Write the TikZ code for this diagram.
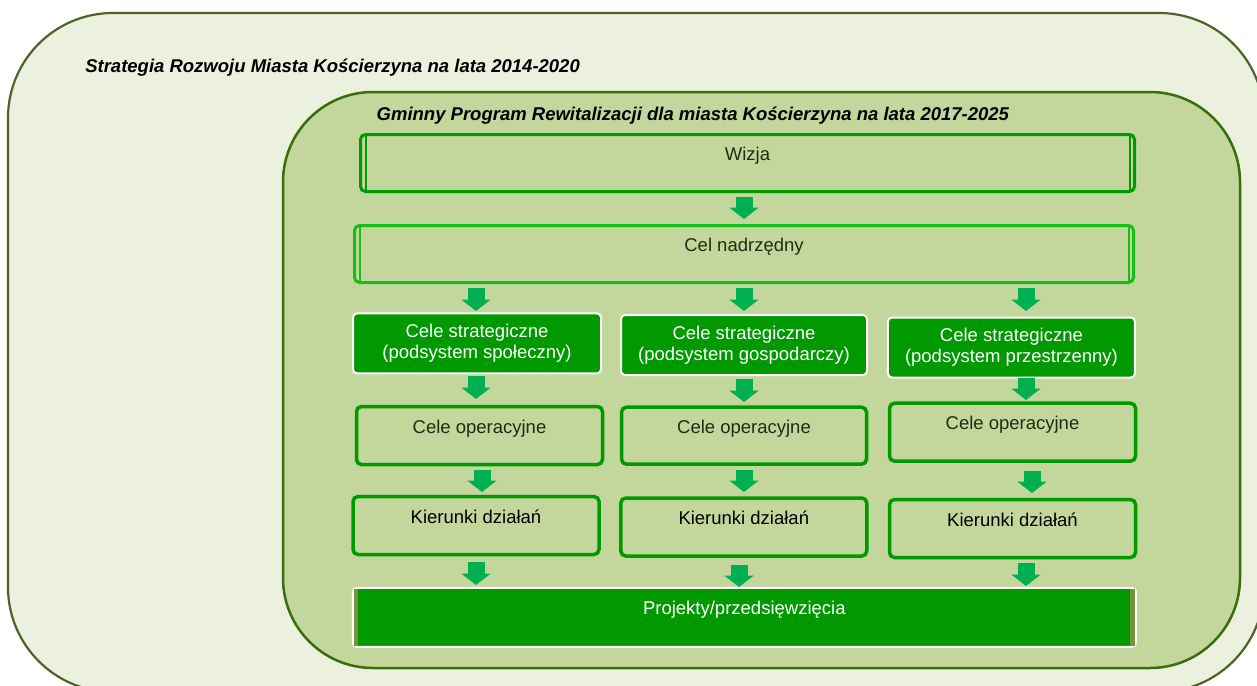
\documentclass[tikz,border=0pt]{standalone}
\usepackage{fontspec}
\setmainfont{Liberation Sans}
\usetikzlibrary{arrows.meta}
\definecolor{outerfill}{HTML}{EBF1DE}
\definecolor{outerline}{HTML}{4F6228}
\definecolor{innerfill}{HTML}{C3D69B}
\definecolor{innerline}{HTML}{3A6E0C}
\definecolor{boxgreen}{HTML}{009900}
\definecolor{lightline}{HTML}{18BE18}
\definecolor{arrowgreen}{HTML}{00B050}
\definecolor{olivestrip}{HTML}{76923C}
\definecolor{darktext}{HTML}{1A2F14}
\begin{document}
\begin{tikzpicture}[x=1pt,y=-1pt,
  every node/.style={font=\fontsize{18.5pt}{21pt}\selectfont, inner sep=0pt, outer sep=0pt},
  titletext/.style={anchor=base west, font=\fontsize{18.5pt}{21pt}\selectfont\bfseries\itshape},
  band/.style={draw=boxgreen, line width=3pt, fill=innerfill, rounded corners=5pt,
    minimum width=774pt, minimum height=57pt, text=darktext, text height=13pt, text depth=18pt},
  strat/.style={fill=boxgreen, draw=white, line width=2pt, rounded corners=4pt,
    minimum width=247pt, minimum height=60pt, text=white, align=center},
  opbox/.style={draw=boxgreen, line width=3.5pt, fill=innerfill, rounded corners=5pt,
    minimum width=246pt, minimum height=58pt, text height=13pt, text depth=18pt, text=darktext},
  kbox/.style={opbox, text=black},
  barrow/.style={draw=arrowgreen, line width=17pt, -{Triangle[width=29pt,length=11.5pt]}},
  edgeline/.style={line width=2pt}
]
\useasboundingbox (0,0) rectangle (1257,685);
\fill[white] (0,0) rectangle (1257,685);
\clip (0,0) rectangle (1257,685);
% containers
\draw[fill=outerfill, draw=outerline, line width=2.2pt, rounded corners=105pt] (8,13) rectangle (1264,692);
\draw[fill=innerfill, draw=innerline, line width=2.5pt, rounded corners=90pt] (283,92) rectangle (1240,668);
\node[titletext] (t1) at (85.3,73) {Strategia Rozwoju Miasta Kościerzyna na lata 2014-2020};
\node[titletext] (t2) at (376.7,120) {Gminny Program Rewitalizacji dla miasta Kościerzyna na lata 2017-2025};
% top bands
\node[band] (wiz) at (747.5,163) {Wizja};
\draw[boxgreen, edgeline] ([xshift=5pt]wiz.north west) -- ([xshift=5pt]wiz.south west);
\draw[boxgreen, edgeline] ([xshift=-5pt]wiz.north east) -- ([xshift=-5pt]wiz.south east);
\node[band, draw=lightline, minimum width=779pt] (cel) at (744,254) {Cel nadrzędny};
\draw[lightline, edgeline] ([xshift=5pt]cel.north west) -- ([xshift=5pt]cel.south west);
\draw[lightline, edgeline] ([xshift=-5pt]cel.north east) -- ([xshift=-5pt]cel.south east);
% strategic
\node[strat, minimum width=248pt] (s1) at (477,343.4) {Cele strategiczne\\(podsystem społeczny)};
\node[strat, minimum width=246pt] (s2) at (744,345) {Cele strategiczne\\(podsystem gospodarczy)};
\node[strat] (s3) at (1011.4,347.5) {Cele strategiczne\\(podsystem przestrzenny)};
% operational
\node[opbox] (o1) at (479.5,435.5) {Cele operacyjne};
\node[opbox, minimum width=245pt, minimum height=57pt] (o2) at (744,435.7) {Cele operacyjne};
\node[opbox] (o3) at (1012.5,432.2) {Cele operacyjne};
% directions
\node[kbox] (k1) at (476,525.5) {Kierunki działań};
\node[kbox] (k2) at (743.8,527) {Kierunki działań};
\node[kbox] (k3) at (1012.5,528.5) {Kierunki działań};
% projects
\node[strat, minimum width=783pt, minimum height=59pt, text height=13pt, text depth=18pt] (proj) at (744.3,617.3) {Projekty/przedsięwzięcia};
\fill[olivestrip] ([xshift=1pt,yshift=-1pt]proj.north west) rectangle ([xshift=5.5pt,yshift=1pt]proj.south west);
\fill[olivestrip] ([xshift=-1pt,yshift=-1pt]proj.north east) rectangle ([xshift=-5.5pt,yshift=1pt]proj.south east);
% arrows
\draw[barrow, shorten <=5.5pt, shorten >=6.5pt] ([xshift=-3.5pt]wiz.south) -- (cel.north);
\draw[barrow, shorten <=5.5pt, shorten >=2.4pt] ([xshift=-268pt]cel.south) -- ([xshift=-1pt]s1.north);
\draw[barrow, shorten <=5.5pt, shorten >=4pt] (cel.south) -- (s2.north);
\draw[barrow, shorten <=5.5pt, shorten >=6.5pt] ([xshift=282pt]cel.south) -- ([xshift=14.6pt]s3.north);
\draw[barrow, shorten <=2.6pt, shorten >=7.5pt] ([xshift=-1pt]s1.south) -- ([xshift=-3.5pt]o1.north);
\draw[barrow, shorten <=4pt, shorten >=5.2pt] (s2.south) -- (o2.north);
\draw[barrow, shorten <=0.5pt, shorten >=3.2pt] ([xshift=14.6pt]s3.south) -- ([xshift=13.5pt]o3.north);
\draw[barrow, shorten <=5.5pt, shorten >=4.5pt] ([xshift=2.5pt]o1.south) -- ([xshift=6pt]k1.north);
\draw[barrow, shorten <=5.8pt, shorten >=6pt] (o2.south) -- ([xshift=0.2pt]k2.north);
\draw[barrow, shorten <=9.8pt, shorten >=6.5pt] ([xshift=19.5pt]o3.south) -- ([xshift=19.5pt]k3.north);
\draw[barrow, shorten <=7.5pt, shorten >=2.8pt] (k1.south) -- ([xshift=-268.3pt]proj.north);
\draw[barrow, shorten <=9pt, shorten >=0.8pt] ([xshift=-4.8pt]k2.south) -- ([xshift=-5.3pt]proj.north);
\draw[barrow, shorten <=5.5pt, shorten >=1.8pt] ([xshift=13.5pt]k3.south) -- ([xshift=281.7pt]proj.north);
\end{tikzpicture}
\end{document}
